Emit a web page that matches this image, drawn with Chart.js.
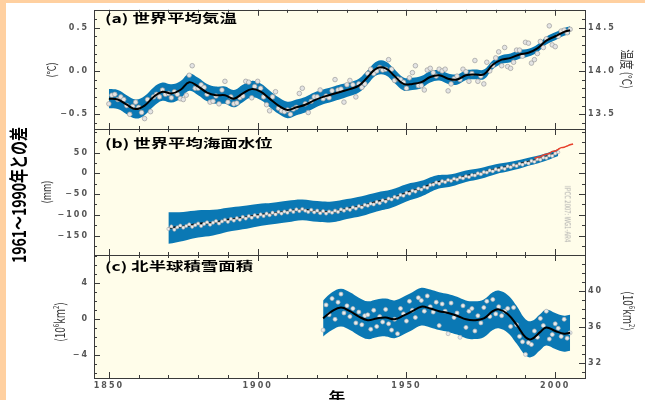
<!DOCTYPE html>
<html>
<head>
<meta charset="utf-8">
<script src="https://cdn.jsdelivr.net/npm/chart.js@4.4.1/dist/chart.umd.min.js"></script>
<style>
  html, body { margin: 0; padding: 0; }
  body { width: 645px; height: 400px; overflow: hidden; background: #fff; position: relative;
         font-family: "Noto Sans CJK JP", "Noto Sans", sans-serif; }
  .edge-l { position: absolute; left: 0; top: 0; width: 6px; height: 400px; background: #ffd0a0; }
  .edge-t { position: absolute; left: 0; top: 0; width: 645px; height: 3px; background: #ffd0a0; }
  canvas { position: absolute; left: 0; top: 0; }
  .t { position: absolute; white-space: nowrap; line-height: 1; }
  .plab { left: 105px; font-weight: bold; font-size: 12px; color: #000;
          transform: translateY(-50%) scaleX(1.45); transform-origin: 0 50%; }
  .rot-l { transform: translate(-50%, -50%) rotate(-90deg) scaleY(1.35); }
  .rot-r { transform: translate(-50%, -50%) rotate(90deg) scaleY(1.35); }
</style>
</head>
<body>
<div class="edge-l"></div>
<div class="edge-t"></div>
<canvas id="ca" width="645" height="400"></canvas>
<canvas id="cb" width="645" height="400"></canvas>
<canvas id="cc" width="645" height="400"></canvas>

<div class="t plab" style="top:18px">(a) 世界平均気温</div>
<div class="t plab" style="top:143px">(b) 世界平均海面水位</div>
<div class="t plab" style="top:266px">(c) 北半球積雪面積</div>

<div class="t rot-l" style="left:18px;top:195px;font-size:14px;font-weight:bold;color:#000">1961～1990年との差</div>
<div class="t rot-l" style="left:51px;top:70px;font-size:9px;color:#333">(°C)</div>
<div class="t rot-l" style="left:46px;top:192px;font-size:9px;color:#333">(mm)</div>
<div class="t rot-l" style="left:59px;top:322px;font-size:10px;color:#333">(10<sup style="font-size:6px">6</sup>km<sup style="font-size:6px">2</sup>)</div>
<div class="t rot-r" style="left:627px;top:69px;font-size:10px;color:#333">温度 (°C)</div>
<div class="t rot-r" style="left:629px;top:311px;font-size:10px;color:#333">(10<sup style="font-size:6px">6</sup>km<sup style="font-size:6px">2</sup>)</div>
<div class="t rot-r" style="left:567px;top:214px;font-size:6px;color:#aaa">IPCC 2007: WG1-AR4</div>
<div class="t" style="left:337px;top:396px;font-size:12px;font-weight:bold;transform:translate(-50%,-50%) scaleX(1.4)">年</div>

<script>
// ─── Data ────────────────────────────────────────────────────────────────────

// x axis (years)
const yearTicks = [1850, 1860, 1870, 1880, 1890, 1900, 1910, 1920, 1930, 1940,
                   1950, 1960, 1970, 1980, 1990, 2000];
const yearLabelValues = [1850, 1900, 1950, 2000];

// (a) global mean temperature, annual values 1850–2005
const tempStart = 1850;
const tempAnnual = [
  -0.38, -0.28, -0.27, -0.33, -0.30, -0.33, -0.40, -0.50, -0.41, -0.36,
  -0.42, -0.48, -0.55, -0.33, -0.47, -0.30, -0.27, -0.30, -0.22, -0.27,
  -0.26, -0.31, -0.24, -0.27, -0.32, -0.33, -0.28, -0.05,  0.06, -0.20,
  -0.20, -0.16, -0.19, -0.27, -0.36, -0.35, -0.29, -0.38, -0.22, -0.12,
  -0.36, -0.30, -0.38, -0.37, -0.31, -0.29, -0.12, -0.13, -0.31, -0.18,
  -0.12, -0.20, -0.30, -0.39, -0.46, -0.30, -0.24, -0.43, -0.46, -0.47,
  -0.45, -0.50, -0.44, -0.42, -0.26, -0.20, -0.38, -0.48, -0.35, -0.30,
  -0.30, -0.22, -0.32, -0.29, -0.31, -0.23, -0.10, -0.22, -0.21, -0.36,
  -0.16, -0.11, -0.16, -0.30, -0.15, -0.19, -0.15, -0.03,  0.02, -0.03,
   0.00,  0.04,  0.01,  0.02,  0.13,  0.02, -0.11, -0.09, -0.10, -0.13,
  -0.20, -0.08, -0.02,  0.06, -0.17, -0.17, -0.22,  0.01,  0.03, -0.02,
  -0.06,  0.02,  0.00,  0.02, -0.23, -0.15, -0.09, -0.06, -0.10,  0.02,
  -0.01, -0.12, -0.03,  0.12, -0.12, -0.06, -0.15,  0.10,  0.00,  0.06,
   0.15,  0.22,  0.06,  0.27,  0.05,  0.03,  0.10,  0.24,  0.24,  0.17,
   0.33,  0.32,  0.09,  0.13,  0.20,  0.34,  0.27,  0.37,  0.52,  0.30,
   0.28,  0.40,  0.46,  0.47,  0.44,  0.48
];
// decadal smoothed curve and its uncertainty half-width
const tempSmoothYears = [1850, 1853, 1856, 1859, 1862, 1865, 1868, 1871, 1874, 1877,
                         1880, 1883, 1886, 1889, 1892, 1895, 1898, 1901, 1904, 1907,
                         1910, 1913, 1916, 1919, 1922, 1925, 1928, 1931, 1934, 1937,
                         1940, 1943, 1946, 1949, 1952, 1955, 1958, 1961, 1964, 1967,
                         1970, 1973, 1976, 1979, 1982, 1985, 1988, 1991, 1994, 1997,
                         2000, 2003, 2005];
const tempSmooth = [-0.32, -0.33, -0.39, -0.44, -0.40, -0.30, -0.24, -0.26, -0.22, -0.13,
                    -0.18, -0.25, -0.28, -0.28, -0.32, -0.26, -0.21, -0.24, -0.32, -0.40,
                    -0.45, -0.42, -0.39, -0.34, -0.30, -0.27, -0.24, -0.21, -0.17, -0.07,
                     0.03,  0.03, -0.06, -0.15, -0.15, -0.13, -0.07, -0.05, -0.09, -0.10,
                    -0.05, -0.04, -0.04,  0.07,  0.13,  0.15,  0.19,  0.21,  0.26,  0.35,
                     0.40,  0.45,  0.47];
const tempErr = [0.11, 0.11, 0.11, 0.11, 0.11, 0.11, 0.105, 0.105, 0.10, 0.10,
                 0.10, 0.10, 0.10, 0.10, 0.10, 0.10, 0.095, 0.095, 0.095, 0.095,
                 0.095, 0.09, 0.09, 0.09, 0.085, 0.085, 0.085, 0.08, 0.08, 0.08,
                 0.08, 0.08, 0.08, 0.075, 0.07, 0.07, 0.065, 0.06, 0.06, 0.06,
                 0.055, 0.055, 0.055, 0.05, 0.05, 0.05, 0.05, 0.045, 0.045, 0.045,
                 0.045, 0.045, 0.045];
const tempTicks = [-0.6, -0.5, -0.4, -0.3, -0.2, -0.1, 0, 0.1, 0.2, 0.3, 0.4, 0.5, 0.6, 0.7];
const tempLabelValues = [-0.5, 0, 0.5];
const tempAbsTicks = [13.4, 13.5, 13.6, 13.7, 13.8, 13.9, 14.0, 14.1, 14.2, 14.3, 14.4, 14.5, 14.6, 14.7];
const tempAbsLabelValues = [13.5, 14.0, 14.5];
const tempBaseline = 14.0;

// (b) global mean sea level, annual values 1870–2001
const seaStart = 1870;
const seaAnnual = [
  -134, -128, -136, -130, -126, -131, -127, -123, -129, -125,
  -121, -127, -122, -118, -124, -119, -115, -121, -116, -112,
  -117, -110, -114, -108, -112, -105, -109, -103, -107, -101,
  -105,  -99, -103,  -97, -101,  -95,  -99,  -93,  -97,  -92,
   -95,  -89,  -93,  -87,  -91,  -86,  -90,  -93,  -88,  -94,
   -90,  -96,  -91,  -97,  -92,  -95,  -90,  -93,  -87,  -90,
   -85,  -88,  -82,  -85,  -79,  -82,  -76,  -78,  -73,  -75,
   -69,  -72,  -65,  -68,  -61,  -63,  -57,  -59,  -52,  -54,
   -47,  -49,  -42,  -44,  -37,  -39,  -33,  -35,  -28,  -27,
   -22,  -25,  -19,  -21,  -16,  -18,  -13,  -15,  -10,  -12,
    -7,   -9,   -4,   -5,    0,   -2,    3,    2,    7,    5,
    10,    8,   13,   11,   17,   15,   20,   18,   23,   21,
    26,   24,   30,   28,   34,   33,   38,   37,   43,   42,
    48,   51
];
const seaSmoothYears = [1870, 1875, 1880, 1885, 1890, 1895, 1900, 1905, 1910, 1915,
                        1920, 1925, 1930, 1935, 1940, 1945, 1950, 1955, 1960, 1965,
                        1970, 1975, 1980, 1985, 1990, 1995, 2001];
const seaSmooth = [-132, -128, -122, -119, -112, -107, -101, -97, -92, -88,
                   -92, -93, -86, -79, -69, -61, -47, -37, -22, -17,
                   -7, 0, 10, 17, 26, 35, 50];
const seaErr = [38, 35, 33, 31, 29, 28, 27, 26, 26, 25,
                25, 25, 24, 24, 23, 22, 21, 19, 17, 15,
                14, 13, 12, 11, 10, 9, 8];
// satellite altimetry
const satYears = [1993, 1994, 1995, 1996, 1997, 1998, 1999, 2000, 2001, 2002, 2003, 2004, 2005, 2006];
const satLevel = [36, 39, 40, 44, 46, 48, 53, 54, 58, 62, 63, 66, 69, 71];
const seaTicks = [-175, -150, -125, -100, -75, -50, -25, 0, 25, 50, 75, 100];
const seaLabelValues = [-150, -100, -50, 0, 50];

// (c) Northern Hemisphere snow cover (March–April), 1922–2005
const snowStart = 1922;
const snowAnnual = [
  -1.2,  1.6,  0.5,  2.3,  0.0,  1.9,  2.8,  0.7,  1.5,  0.3,
   1.2, -0.4,  0.8, -0.6,  0.4,  0.5, -1.1,  1.0, -0.8,  0.3,
  -0.3,  1.1, -0.5, -1.2,  0.0, -1.6,  1.2,  0.6, -0.2,  2.0,
   1.0,  0.2,  2.4,  2.1,  0.9,  2.6,  1.4,  0.8,  1.9, -0.7,
   1.7,  0.9, -1.6,  1.8,  0.2,  0.7, -2.0,  1.5, -0.9,  0.9,
   1.2, -1.3,  0.4, -0.4,  1.3,  2.0,  0.3,  2.2,  0.6,  1.4,
   0.4,  0.9,  1.2, -0.8,  1.3, -0.6, -1.9, -2.5, -3.9, -2.6,
  -2.8, -1.3, -2.0,  0.1, -0.7,  0.9, -2.2, -1.7, -0.5, -1.0,
  -1.9,  0.0, -2.1, -1.5
];
const snowSmoothYears = [1922, 1925, 1928, 1931, 1934, 1937, 1940, 1943, 1946, 1949,
                         1952, 1955, 1958, 1961, 1964, 1967, 1970, 1973, 1976, 1979,
                         1981, 1984, 1987, 1990, 1992, 1995, 1997, 2000, 2003, 2005];
const snowSmooth = [0.1, 0.9, 1.3, 0.9, 0.3, -0.1, 0.1, 0.2, 0.0, 0.4,
                    0.9, 1.4, 1.2, 0.9, 0.7, 0.4, 0.0, -0.1, 0.1, 0.9,
                    1.1, 0.6, -0.6, -2.0, -2.2, -1.4, -0.9, -1.3, -1.6, -1.5];
const snowErr = [2.0, 2.1, 2.1, 2.1, 2.1, 2.1, 2.1, 2.1, 2.1, 2.1,
                 2.1, 2.1, 2.1, 2.1, 2.1, 2.1, 2.1, 2.1, 2.1, 2.1,
                 2.1, 2.1, 2.1, 2.0, 2.0, 2.0, 2.0, 2.0, 2.0, 2.0];
const snowTicks = [-6, -5, -4, -3, -2, -1, 0, 1, 2, 3, 4, 5, 6, 7];
const snowLabelValues = [-4, 0, 4];
const snowAbsTicks = [31, 32, 33, 34, 35, 36, 37, 38, 39, 40, 41, 42, 43, 44];
const snowAbsLabelValues = [32, 36, 40];
const snowBaseline = 36.9;

// ─── Styling ─────────────────────────────────────────────────────────────────

const BAND = '#0a78b4';
const CREAM = '#fffdea';
const AXIS = '#3a3a3a';
const TICK_TXT = '#555';

Chart.defaults.font.family = "'DejaVu Sans', sans-serif";

// ─── Helpers ─────────────────────────────────────────────────────────────────

const pts = (xs, ys) => xs.map((x, i) => ({ x, y: ys[i] }));
const annualPts = (start, ys) => ys.map((y, i) => ({ x: start + i, y }));

function bandSets(xs, mid, err) {
  return [
    { data: xs.map((x, i) => ({ x, y: mid[i] + err[i] })), borderWidth: 0, pointRadius: 0,
      tension: 0.4, fill: '+1', backgroundColor: BAND, order: 8 },
    { data: xs.map((x, i) => ({ x, y: mid[i] - err[i] })), borderWidth: 0, pointRadius: 0,
      tension: 0.4, fill: false, order: 9 },
  ];
}

// tick value -> label text, keyed by value.toFixed(1)
function labelMap(values, digits) {
  const m = {};
  values.forEach(v => {
    m[v.toFixed(1)] = (v < 0 ? '−' : '') + Math.abs(v).toFixed(digits);
  });
  return m;
}

function xScale(show) {
  const labels = {};
  yearLabelValues.forEach(v => { labels[v] = String(v); });
  return {
    type: 'linear', min: 1845, max: 2010, display: show,
    afterBuildTicks: s => { s.ticks = yearTicks.map(v => ({ value: v })); },
    afterFit: s => { s.height = show ? 14 : 0; },
    grid: { display: false, drawTicks: false },
    border: { display: false },
    ticks: { autoSkip: false, maxRotation: 0, padding: 3, color: TICK_TXT,
             font: { size: 8, weight: 'bold' }, callback: v => labels[v] || '' },
  };
}

function yScale(position, min, max, tickVals, labels, width) {
  return {
    type: 'linear', position, min, max,
    afterBuildTicks: s => { s.ticks = tickVals.map(v => ({ value: v })); },
    afterFit: s => { s.width = width; },
    grid: { display: false, drawTicks: false },
    border: { display: false },
    ticks: { autoSkip: false, padding: position === 'left' ? 5 : 3, color: TICK_TXT,
             font: { size: 8, weight: 'bold' }, callback: v => labels[Number(v).toFixed(1)] || '' },
  };
}

// cream plot area, frame, and inward tick marks on all four sides
const panelFrame = {
  id: 'panelFrame',
  beforeDraw(chart) {
    const { ctx, chartArea: a } = chart;
    ctx.save();
    ctx.fillStyle = CREAM;
    ctx.fillRect(a.left, a.top, a.right - a.left, a.bottom - a.top);
    ctx.restore();
    ctx.letterSpacing = '2px';
  },
  afterDraw(chart) {
    const { ctx, chartArea: a, scales } = chart;
    ctx.save();
    ctx.strokeStyle = AXIS;
    ctx.lineWidth = 1;
    ctx.beginPath();
    yearTicks.forEach(v => {
      const px = Math.round(scales.x.getPixelForValue(v)) + 0.5;
      const len = yearLabelValues.includes(v) ? 6 : 3;
      ctx.moveTo(px, a.bottom); ctx.lineTo(px, a.bottom - len);
      ctx.moveTo(px, a.top);    ctx.lineTo(px, a.top + len);
    });
    [scales.y, scales.y2].filter(Boolean).forEach(s => {
      const sides = scales.y2 ? [s.position] : ['left', 'right'];
      s.ticks.forEach(t => {
        const py = Math.round(s.getPixelForValue(t.value)) + 0.5;
        const len = t.label ? 6 : 3;
        sides.forEach(side => {
          const x0 = side === 'left' ? a.left : a.right;
          const dir = side === 'left' ? 1 : -1;
          ctx.moveTo(x0, py); ctx.lineTo(x0 + dir * len, py);
        });
      });
    });
    ctx.stroke();
    ctx.strokeRect(Math.round(a.left) + 0.5, Math.round(a.top) + 0.5,
                   Math.round(a.right - a.left), Math.round(a.bottom - a.top));
    ctx.restore();
  },
};

const common = {
  responsive: false, animation: false, devicePixelRatio: 1, events: [],
  plugins: { legend: { display: false }, tooltip: { enabled: false } },
};

const dotStyle = { showLine: false, pointRadius: 2.3, pointBorderWidth: 0.7,
                   pointBackgroundColor: '#e4e4e4', pointBorderColor: '#9c9c9c' };

// ─── (a) temperature ─────────────────────────────────────────────────────────

new Chart(document.getElementById('ca'), {
  type: 'line',
  data: {
    datasets: [
      { data: pts(tempSmoothYears, tempSmooth), borderColor: '#000', borderWidth: 2,
        pointRadius: 0, tension: 0.4, order: 0 },
      { data: annualPts(tempStart, tempAnnual), ...dotStyle, order: 1 },
      ...bandSets(tempSmoothYears, tempSmooth, tempErr),
    ],
  },
  options: {
    ...common,
    layout: { padding: { top: 8, bottom: 271, left: 0, right: 0 } },
    scales: {
      x: xScale(false),
      y: yScale('left', -0.67, 0.705, tempTicks, labelMap(tempLabelValues, 1), 94),
      y2: yScale('right', -0.67 + tempBaseline, 0.705 + tempBaseline, tempAbsTicks,
                 labelMap(tempAbsLabelValues, 1), 60),
    },
  },
  plugins: [panelFrame],
});

// ─── (b) sea level ───────────────────────────────────────────────────────────

new Chart(document.getElementById('cb'), {
  type: 'line',
  data: {
    datasets: [
      { data: pts(satYears, satLevel), borderColor: '#e8412c', borderWidth: 1.5,
        pointRadius: 0, tension: 0.3, order: -1 },
      { data: annualPts(seaStart, seaAnnual), showLine: true, borderColor: '#c4c4c4', borderWidth: 1.2,
        pointRadius: 1.6, pointBorderWidth: 0.6, pointBackgroundColor: '#eeeeee',
        pointBorderColor: '#a8a8a8', tension: 0, order: 0 },
      { data: pts(seaSmoothYears, seaSmooth), borderColor: '#000', borderWidth: 2,
        pointRadius: 0, tension: 0.4, order: 1 },
      ...bandSets(seaSmoothYears, seaSmooth, seaErr),
    ],
  },
  options: {
    ...common,
    layout: { padding: { top: 129, bottom: 145, left: 0, right: 60 } },
    scales: {
      x: xScale(false),
      y: yScale('left', -197, 107, seaTicks, labelMap(seaLabelValues, 0), 94),
    },
  },
  plugins: [panelFrame],
});

// ─── (c) snow cover ──────────────────────────────────────────────────────────

new Chart(document.getElementById('cc'), {
  type: 'line',
  data: {
    datasets: [
      { data: pts(snowSmoothYears, snowSmooth), borderColor: '#000', borderWidth: 2,
        pointRadius: 0, tension: 0.4, order: 0 },
      { data: annualPts(snowStart, snowAnnual), ...dotStyle, pointRadius: 2, pointBackgroundColor: '#e6ecef',
        pointBorderColor: '#b4b4b4', order: 1 },
      ...bandSets(snowSmoothYears, snowSmooth, snowErr),
    ],
  },
  options: {
    ...common,
    layout: { padding: { top: 255, bottom: 8, left: 0, right: 0 } },
    scales: {
      x: xScale(true),
      y: yScale('left', -6.52, 7.14, snowTicks, labelMap(snowLabelValues, 0), 94),
      y2: yScale('right', -6.52 + snowBaseline, 7.14 + snowBaseline, snowAbsTicks,
                 labelMap(snowAbsLabelValues, 0), 60),
    },
  },
  plugins: [panelFrame],
});
</script>
</body>
</html>
